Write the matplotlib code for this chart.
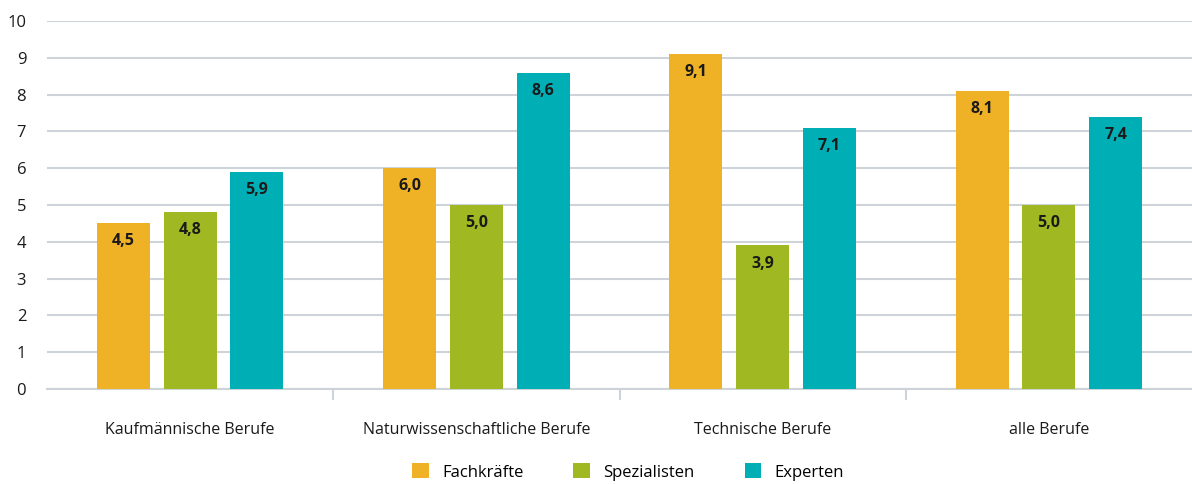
import numpy as np
import matplotlib
matplotlib.use("Agg")
from matplotlib import pyplot as plt

plt.rcParams['font.family'] = ['Open Sans', 'DejaVu Sans']

categories = ["Kaufmännische Berufe", "Naturwissenschaftliche Berufe",
              "Technische Berufe", "alle Berufe"]
series = ["Fachkräfte", "Spezialisten", "Experten"]
fachkraefte = [4.5, 6.0, 9.1, 8.1]
spezialisten = [4.8, 5.0, 3.9, 5.0]
experten = [5.9, 8.6, 7.1, 7.4]
colors = ["#EFB125", "#A0B821", "#00AFB5"]

fig = plt.figure(figsize=(11.92, 4.84), dpi=100)
ax = fig.add_axes([47/1192, 1-389/484, 1-47/1192, 368/484])

x = np.arange(len(categories))
width = 0.185
step = 0.233
for i, (vals, name, c) in enumerate(zip([fachkraefte, spezialisten, experten], series, colors)):
    pos = x + (i - 1) * step
    bars = ax.bar(pos, vals, width, color=c, label=name, zorder=3)
    for b, v in zip(bars, vals):
        ax.annotate(f"{v:.1f}".replace(".", ","), (b.get_x() + b.get_width()/2, v),
                    xytext=(0, -13), textcoords="offset points", ha="center", va="center",
                    fontsize=11.5, fontweight="bold", color="#1a1a1a", zorder=4)

ax.set_xlim(-0.5, 3.5)
ax.set_ylim(0, 10)
ax.set_yticks(range(0, 11))
ax.yaxis.grid(True, color="#cdd3d8", linewidth=1.5, zorder=0)
ax.set_axisbelow(True)
for s in ["top", "right", "left"]:
    ax.spines[s].set_visible(False)
ax.spines["bottom"].set_color("#cdd3d8")
ax.spines["bottom"].set_linewidth(1.5)

ax.set_xticks(x)
ax.set_xticklabels(categories)
ax.set_xticks([0.5, 1.5, 2.5], minor=True)
ax.tick_params(axis="x", which="major", length=0, pad=24, labelsize=11.5, labelcolor="#1a1a1a")
ax.tick_params(axis="x", which="minor", length=8, width=1.5, color="#cdd3d8")
ax.tick_params(axis="y", length=0, pad=15, labelsize=12, labelcolor="#1a1a1a")

fig.legend(loc="center", bbox_to_anchor=(0.527, 1-472/484), ncol=3, frameon=False,
           fontsize=12, handlelength=1.0, handleheight=1.0, columnspacing=3.0,
           handletextpad=0.8)

fig.savefig("out.png", dpi=100)
